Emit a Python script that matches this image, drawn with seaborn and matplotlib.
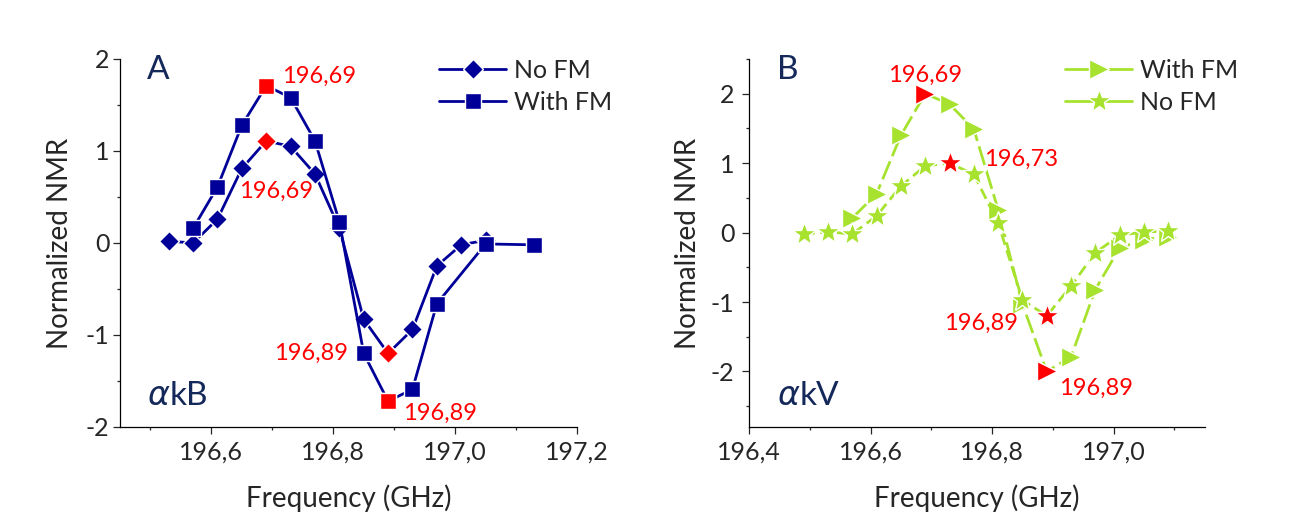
import numpy as np
import pandas as pd
import seaborn as sns
import matplotlib.pyplot as plt
from matplotlib.lines import Line2D
from matplotlib.ticker import MultipleLocator, FuncFormatter

# Panel A (alpha kB)
freq_a_nofm = [196.53, 196.57, 196.61, 196.65, 196.69, 196.73, 196.77,
               196.81, 196.85, 196.89, 196.93, 196.97, 197.01, 197.05]
nmr_a_nofm = [0.02, 0.0, 0.26, 0.81, 1.11, 1.05, 0.75,
              0.16, -0.83, -1.2, -0.94, -0.25, -0.02, 0.03]
freq_a_fm = [196.57, 196.61, 196.65, 196.69, 196.73, 196.77, 196.81,
             196.85, 196.89, 196.93, 196.97, 197.05, 197.13]
nmr_a_fm = [0.16, 0.61, 1.28, 1.71, 1.58, 1.11, 0.23,
            -1.2, -1.72, -1.59, -0.66, -0.01, -0.02]

# Panel B (alpha kV)
freq_b_fm = [196.57, 196.61, 196.65, 196.69, 196.73, 196.77, 196.81,
             196.85, 196.89, 196.93, 196.97, 197.01, 197.05, 197.09]
nmr_b_fm = [0.21, 0.56, 1.40, 2.0, 1.85, 1.49, 0.33,
            -1.03, -2.0, -1.79, -0.82, -0.22, -0.10, -0.06]
freq_b_nofm = [196.49, 196.53, 196.57, 196.61, 196.65, 196.69, 196.73, 196.77,
               196.81, 196.85, 196.89, 196.93, 196.97, 197.01, 197.05, 197.09]
nmr_b_nofm = [-0.02, 0.01, -0.02, 0.24, 0.67, 0.96, 1.0, 0.84,
              0.14, -0.97, -1.2, -0.77, -0.29, -0.04, 0.01, 0.02]

# highlighted extrema (red markers + labels)
peaks_a_nofm = [196.69, 196.89]
peaks_a_fm = [196.69, 196.89]
peaks_b_fm = [196.69, 196.89]
peaks_b_nofm = [196.73, 196.89]

NAVY = '#000099'
GREEN = '#a6e22e'
RED = '#ff0000'
TXT = '#14285a'

sns.set_style('ticks')
plt.rcParams['font.family'] = ['Lato', 'DejaVu Sans']
plt.rcParams['axes.unicode_minus'] = False


def xcomma(v, pos=None):
    return ('%.1f' % v).replace('.', ',')


def drawSeries(ax, freq, nmr, peaks, color, marker, ms, ls, offsets):
    sns.lineplot(x=freq, y=nmr, ax=ax, color=color, lw=2, linestyle=ls,
                 marker=marker, markersize=ms, markeredgecolor='white',
                 markeredgewidth=1.0, legend=False, zorder=3)
    df = pd.DataFrame({'f': freq, 'v': nmr})
    for p, (dx, dy, ha) in zip(peaks, offsets):
        row = df[np.isclose(df['f'], p)]
        ax.plot(row['f'], row['v'], ls='none', marker=marker, ms=ms, color=RED,
                mec='white', mew=1.0, zorder=4)
        ax.annotate(('%.2f' % p).replace('.', ','), (row['f'].iloc[0], row['v'].iloc[0]),
                    xytext=(dx, dy), textcoords='offset points', ha=ha, va='center',
                    color=RED, fontsize=17)


def styleAxes(ax, xlim, ylim, ypad):
    ax.set_xlim(*xlim)
    ax.set_ylim(*ylim)
    sns.despine(ax=ax)
    ax.xaxis.set_major_locator(MultipleLocator(0.2))
    ax.xaxis.set_minor_locator(MultipleLocator(0.1))
    ax.yaxis.set_major_locator(MultipleLocator(1))
    ax.yaxis.set_minor_locator(MultipleLocator(0.5))
    ax.xaxis.set_major_formatter(FuncFormatter(xcomma))
    ax.yaxis.set_major_formatter(FuncFormatter(lambda v, p: '%d' % round(v)))
    ax.tick_params(which='major', length=5, width=0.9, labelsize=18, direction='out')
    ax.tick_params(which='minor', length=2.5, width=0.9, direction='out')
    ax.tick_params(axis='y', which='major', pad=ypad)
    ax.tick_params(axis='x', which='major', pad=5)
    for s in ['left', 'bottom']:
        ax.spines[s].set_linewidth(0.9)
        ax.spines[s].set_color('black')
    ax.set_xlabel('Frequency (GHz)', fontsize=20, labelpad=15)
    ax.set_ylabel('Normalized NMR', fontsize=20)


fig = plt.figure(figsize=(13.01, 5.14), dpi=100)
axA = fig.add_axes([120 / 1301, 1 - 427 / 514, 457 / 1301, 368 / 514])
axB = fig.add_axes([749 / 1301, 1 - 427 / 514, 455.7 / 1301, 368 / 514])

# panel A
drawSeries(axA, freq_a_nofm, nmr_a_nofm, peaks_a_nofm, NAVY, 'D', 10.5, '-',
           [(7, -36, 'center'), (-29, 0, 'right')])
drawSeries(axA, freq_a_fm, nmr_a_fm, peaks_a_fm, NAVY, 's', 11, '-',
           [(11.5, 7, 'left'), (10.5, -8.5, 'left')])
styleAxes(axA, (196.45, 197.2), (-2, 2), 2.5)
axA.yaxis.labelpad = 9

# panel B
drawSeries(axB, freq_b_fm, nmr_b_fm, peaks_b_fm, GREEN, '>', 14, (0, (7, 2)),
           [(0, 13.5, 'center'), (9, -12.2, 'left')])
drawSeries(axB, freq_b_nofm, nmr_b_nofm, peaks_b_nofm, GREEN, '*', 18, (0, (4, 2)),
           [(24.5, 2.7, 'left'), (-20.5, -5, 'right')])
styleAxes(axB, (196.4, 197.15), (-2.8, 2.5), 5.5)
axB.yaxis.labelpad = 7

# legends
hA = [Line2D([], [], color=NAVY, lw=2, marker='D', ms=10.5, mec='white', mew=1.0),
      Line2D([], [], color=NAVY, lw=2, marker='s', ms=11, mec='white', mew=1.0)]
axA.legend(hA, ['No FM', 'With FM'], loc='upper left', bbox_to_anchor=(0.698, 1.0),
           frameon=False, fontsize=18, handlelength=2.7, handletextpad=0.3,
           labelspacing=0.35, borderpad=0, borderaxespad=0)
hB = [Line2D([], [], color=GREEN, lw=2, marker='>', ms=14, mec='white', mew=1.0),
      Line2D([], [], color=GREEN, lw=2, marker='*', ms=18, mec='white', mew=1.0)]
axB.legend(hB, ['With FM', 'No FM'], loc='upper left', bbox_to_anchor=(0.693, 1.0),
           frameon=False, fontsize=18, handlelength=2.7, handletextpad=0.3,
           labelspacing=0.35, borderpad=0, borderaxespad=0)

# panel letters and tags
axA.text(0.058, 1.01, 'A', transform=axA.transAxes, fontsize=24, color=TXT, ha='left', va='top')
axB.text(0.061, 1.01, 'B', transform=axB.transAxes, fontsize=24, color=TXT, ha='left', va='top')
axA.text(0.06, 0.06, r'$\alpha$kB', transform=axA.transAxes, fontsize=24, color=TXT)
axB.text(0.061, 0.06, r'$\alpha$kV', transform=axB.transAxes, fontsize=24, color=TXT)

fig.savefig('out.png', dpi=100)
